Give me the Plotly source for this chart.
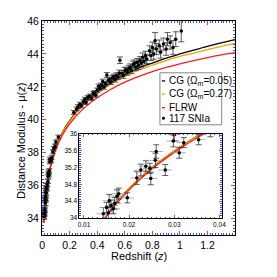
import plotly.graph_objects as go

# ---------------- data ----------------
# model curves
z_curve = [0.013, 0.015, 0.02, 0.025, 0.03, 0.035, 0.04, 0.05, 0.07, 0.1, 0.15,
           0.2, 0.3, 0.4, 0.5, 0.6, 0.7, 0.8, 0.9, 1.0, 1.1, 1.2, 1.3, 1.4]
mu_cg005 = [33.74, 34.06, 34.70, 35.19, 35.59, 35.94, 36.24, 36.72, 37.50, 38.31, 39.27,
            39.95, 40.95, 41.68, 42.26, 42.73, 43.14, 43.45, 43.75, 44.00, 44.24, 44.47, 44.68, 44.88]
mu_cg027 = [33.74, 34.06, 34.70, 35.19, 35.59, 35.94, 36.24, 36.71, 37.49, 38.29, 39.24,
            39.91, 40.90, 41.61, 42.18, 42.63, 43.03, 43.32, 43.60, 43.85, 44.06, 44.27, 44.46, 44.65]
mu_flrw = [33.74, 34.05, 34.67, 35.16, 35.56, 35.90, 36.19, 36.68, 37.42, 38.21, 39.11,
           39.76, 40.68, 41.34, 41.86, 42.29, 42.63, 42.93, 43.18, 43.40, 43.60, 43.78, 43.94, 44.08]

# supernovae: redshift, distance modulus, error
sn_z = [0.0143, 0.0150, 0.0154, 0.0156, 0.0160, 0.0165, 0.0168, 0.0173, 0.0177, 0.0196,
        0.0217, 0.0226, 0.0237, 0.0246, 0.0248, 0.0258, 0.0260, 0.0280, 0.0298, 0.0300,
        0.0311, 0.0321, 0.0354,
        0.038, 0.042, 0.045, 0.046, 0.048, 0.050, 0.052, 0.056, 0.058, 0.062, 0.066,
        0.070, 0.078, 0.085, 0.094, 0.100, 0.118,
        0.23, 0.25, 0.26, 0.275, 0.285, 0.30, 0.31, 0.32, 0.33, 0.345, 0.36, 0.37,
        0.38, 0.39, 0.40, 0.41, 0.42, 0.43, 0.44, 0.45, 0.46, 0.47, 0.48, 0.49, 0.50,
        0.51, 0.52, 0.53, 0.54, 0.55, 0.56, 0.565, 0.58, 0.59, 0.60, 0.61, 0.62, 0.63,
        0.64, 0.65, 0.66, 0.67, 0.68, 0.69, 0.70, 0.71, 0.72, 0.73, 0.74, 0.75, 0.76,
        0.78, 0.79, 0.80, 0.81, 0.82, 0.83, 0.85, 0.86, 0.88, 0.90, 0.91, 0.93, 0.95,
        0.97, 1.01]
sn_mu = [34.10, 34.25, 34.12, 34.41, 34.30, 34.22, 34.35, 34.52, 34.58, 34.48,
         34.95, 35.14, 35.23, 35.18, 34.94, 35.37, 35.58, 35.14, 35.83, 35.98,
         35.55, 35.79, 35.86,
         36.05, 36.25, 36.55, 36.72, 36.82, 36.65, 36.90, 37.45, 37.60, 37.50, 37.55,
         37.70, 38.05, 38.25, 38.40, 38.65, 38.95,
         40.45, 40.66, 40.80, 40.95, 40.85, 41.10, 41.25, 41.05, 41.35, 41.44, 41.30, 41.60,
         41.64, 41.50, 41.80, 42.04, 41.90, 42.10, 42.33, 42.00, 42.20, 42.73, 42.40, 42.43, 42.30,
         42.55, 42.63, 42.45, 42.70, 42.60, 42.85, 43.62, 42.83, 42.70, 43.00, 43.02, 42.90, 43.12,
         43.20, 43.00, 43.35, 43.42, 43.20, 43.50, 43.30, 43.60, 43.45, 43.80, 43.55, 43.90, 43.70,
         44.20, 43.90, 44.40, 44.00, 44.80, 44.30, 44.50, 44.10, 44.60, 44.30, 44.90, 44.70, 44.40,
         44.90, 45.39]
sn_err = [0.15, 0.12, 0.14, 0.15, 0.13, 0.12, 0.14, 0.15, 0.13, 0.12,
          0.15, 0.14, 0.13, 0.12, 0.15, 0.17, 0.16, 0.13, 0.14, 0.15,
          0.13, 0.12, 0.12,
          0.12, 0.12, 0.13, 0.12, 0.13, 0.12, 0.13, 0.12, 0.13, 0.12, 0.12,
          0.12, 0.12, 0.12, 0.12, 0.12, 0.12,
          0.12, 0.12, 0.12, 0.12, 0.12, 0.12, 0.12, 0.12, 0.12, 0.12, 0.12, 0.12,
          0.13, 0.13, 0.13, 0.13, 0.13, 0.13, 0.14, 0.14, 0.14, 0.14, 0.15, 0.15, 0.15,
          0.15, 0.15, 0.16, 0.16, 0.16, 0.17, 0.20, 0.17, 0.18, 0.18, 0.18, 0.19, 0.19,
          0.20, 0.20, 0.21, 0.22, 0.22, 0.23, 0.24, 0.24, 0.25, 0.26, 0.26, 0.27, 0.28,
          0.30, 0.30, 0.32, 0.32, 0.50, 0.34, 0.35, 0.35, 0.37, 0.38, 0.40, 0.40, 0.42,
          0.45, 0.65]
sn_zerr = [0.0015] * len(sn_z)

legend_names = ["CG (\u03a9<sub>m</sub>=0.05)", "CG (\u03a9<sub>m</sub>=0.27)", "FLRW", "117 SNIa"]

# ---------------- styling ----------------
FONT = "Liberation Sans Narrow, Arial Narrow, Liberation Sans, Arial, sans-serif"
C_BLACK = "#000000"
C_ORANGE = "#f5a000"
C_RED = "#ff1a1a"
C_MAJOR = "#ff3030"
C_MINOR = "#4040ff"

fig = go.Figure()

for xa, ya in (("x", "y"), ("x2", "y2")):
    fig.add_trace(go.Scatter(x=z_curve, y=mu_cg005, mode="lines", line=dict(color=C_BLACK, width=1.3, shape="spline"),
                             xaxis=xa, yaxis=ya, showlegend=False, name=legend_names[0]))
    fig.add_trace(go.Scatter(x=z_curve, y=mu_cg027, mode="lines", line=dict(color=C_ORANGE, width=1.3, shape="spline"),
                             xaxis=xa, yaxis=ya, showlegend=False, name=legend_names[1]))
    fig.add_trace(go.Scatter(x=z_curve, y=mu_flrw, mode="lines", line=dict(color=C_RED, width=1.3, shape="spline"),
                             xaxis=xa, yaxis=ya, showlegend=False, name=legend_names[2]))
    fig.add_trace(go.Scatter(
        x=sn_z, y=sn_mu, mode="markers", xaxis=xa, yaxis=ya, showlegend=False, name=legend_names[3],
        marker=dict(color="black", size=3.5),
        error_y=dict(type="data", array=sn_err, visible=True, color="#333333", thickness=0.8, width=3),
        error_x=dict(type="data", array=sn_zerr, visible=True, color="#999999", thickness=0.8, width=0),
    ))

axis_common = dict(showline=True, linecolor="black", linewidth=1, mirror="ticks", ticks="inside",
                   tickcolor=C_MAJOR, tickwidth=1, showgrid=False, zeroline=False,
                   tickfont=dict(family=FONT, size=10.5, color="black"))

# the page adds an 8px offset; margins compensate so the frame sits at x 42-235, y 15-235
fig.update_layout(
    width=269, height=269,
    margin=dict(l=34, r=42, t=7, b=42),
    paper_bgcolor="white", plot_bgcolor="white",
    font=dict(family=FONT, color="black"),
    xaxis=dict(domain=[0, 1], range=[-0.0005, 1.4], tickmode="array",
               tickvals=[0, 0.2, 0.4, 0.6, 0.8, 1.0, 1.2], ticktext=["0", "0.2", "0.4", "0.6", "0.8", "1", "1.2"],
               ticklen=4, anchor="y",
               minor=dict(tickmode="linear", tick0=0, dtick=0.02, ticks="inside", ticklen=2, tickcolor=C_MINOR),
               **axis_common),
    yaxis=dict(domain=[0, 1], range=[33, 46.005], tickmode="array",
               tickvals=[34, 36, 38, 40, 42, 44, 46], ticklen=4, anchor="x",
               minor=dict(tickmode="linear", tick0=0, dtick=0.2, ticks="inside", ticklen=2, tickcolor=C_MINOR),
               **axis_common),
    xaxis2=dict(domain=[0.194, 0.931], range=[0.009, 0.0405], anchor="y2", tickmode="array",
                tickvals=[0.01, 0.02, 0.03, 0.04], ticktext=["0.01", "0.02", "0.03", "0.04"], ticklen=3,
                minor=dict(tickmode="linear", tick0=0, dtick=0.001, ticks="inside", ticklen=1.5, tickcolor=C_MINOR),
                **{**axis_common, "tickfont": dict(family=FONT, size=6.5, color="black")}),
    yaxis2=dict(domain=[0.079, 0.473], range=[33.999, 36.001], anchor="x2", tickmode="array",
                tickvals=[34, 34.4, 34.8, 35.2, 35.6, 36], ticktext=["34", "34.4", "34.8", "35.2", "35.6", "36"],
                ticklen=3,
                minor=dict(tickmode="linear", tick0=0, dtick=0.05, ticks="inside", ticklen=1.5, tickcolor=C_MINOR),
                **{**axis_common, "tickfont": dict(family=FONT, size=6.5, color="black")}),
)

# inset background
fig.add_shape(type="rect", xref="paper", yref="paper", x0=0.194, x1=0.931, y0=0.079, y1=0.473,
              fillcolor="white", line=dict(width=0), layer="below")

# axis titles
fig.add_annotation(text="Distance Modulus - \u03bc(<i>z</i>)", xref="paper", yref="paper", x=-0.108, y=0.44,
                   textangle=-90, showarrow=False, xanchor="center", yanchor="middle",
                   font=dict(family=FONT, size=11, color="black"))
fig.add_annotation(text="Redshift (<i>z</i>)", xref="paper", yref="paper", x=0.5, y=-0.062,
                   showarrow=False, xanchor="center", yanchor="top",
                   font=dict(family=FONT, size=11, color="black"))

# legend box (manual)
fig.add_shape(type="rect", xref="paper", yref="paper", x0=0.611, x1=0.931, y0=0.515, y1=0.758,
              fillcolor="white", line=dict(color="#888888", width=1), layer="above")
leg_y = [0.720, 0.659, 0.595, 0.545]
leg_c = [C_BLACK, C_ORANGE, C_RED]
for i in range(3):
    fig.add_shape(type="line", xref="paper", yref="paper", x0=0.621, x1=0.638, y0=leg_y[i], y1=leg_y[i],
                  line=dict(color=leg_c[i], width=1.3), layer="above")
fig.add_shape(type="circle", xref="paper", yref="paper", x0=0.622, x1=0.637, y0=leg_y[3] - 0.007,
              y1=leg_y[3] + 0.007, fillcolor="black", line=dict(width=0), layer="above")
for i in range(4):
    fig.add_annotation(text=legend_names[i], xref="paper", yref="paper", x=0.646, y=leg_y[i],
                       xanchor="left", yanchor="middle", showarrow=False,
                       font=dict(family=FONT, size=10, color="black"))

fig.write_html("out.html")
